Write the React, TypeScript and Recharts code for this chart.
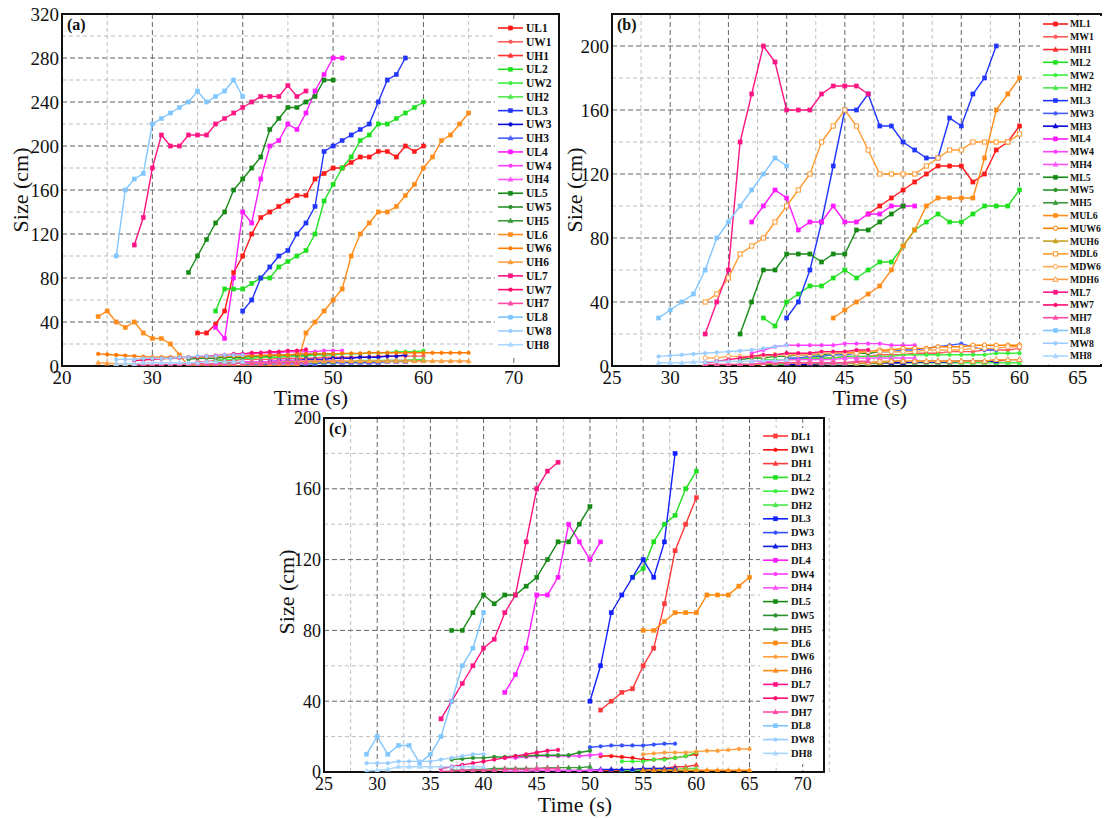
import React from "react";
import {
  LineChart,
  Line,
  XAxis,
  YAxis,
  CartesianGrid,
  Legend,
  ReferenceArea,
} from "recharts";

type Shape = "square" | "circle" | "triangle";
type Series = {
  name: string;
  t0: number;
  values: number[];
  color: string;
  shape: Shape;
  hollow?: boolean;
};

// ---------- panel (a): upper ----------
const UL1 = [30, 30, 38, 50, 85, 100, 120, 135, 140, 145, 150, 155, 155, 170, 175, 180, 180, 185, 190, 190, 195, 195, 190, 200, 195, 200];
const UW1 = [4, 4, 5, 5, 5, 6, 6, 6, 6, 7, 7, 7, 7, 7, 8, 8, 8, 8, 8, 8, 9, 9, 9, 9, 9, 9];
const UH1 = [2, 2, 2, 2, 3, 3, 3, 3, 3, 3, 3, 3, 4, 4, 4, 4, 4, 4, 4, 4, 4, 5, 5, 5, 5, 5];
const UL2 = [50, 70, 70, 70, 75, 80, 80, 90, 95, 100, 105, 120, 150, 165, 180, 190, 205, 210, 220, 220, 225, 230, 235, 240];
const UW2 = [5, 6, 6, 7, 7, 8, 8, 8, 9, 9, 9, 10, 10, 10, 11, 11, 11, 12, 12, 12, 13, 13, 13, 14];
const UH2 = [2, 2, 2, 3, 3, 3, 3, 3, 3, 4, 4, 4, 4, 4, 4, 4, 5, 5, 5, 5, 5, 5, 6, 6];
const UL3 = [50, 60, 80, 90, 100, 105, 120, 130, 145, 195, 200, 205, 210, 215, 220, 240, 260, 265, 280];
const UW3 = [3, 3, 4, 4, 5, 5, 5, 6, 6, 6, 7, 7, 7, 8, 8, 8, 9, 9, 10];
const UH3 = [1, 1, 1, 2, 2, 2, 2, 2, 2, 3, 3, 3, 3, 3, 3, 3, 4, 4, 4];
const UL4 = [35, 25, 80, 140, 130, 170, 200, 205, 220, 215, 230, 250, 265, 280, 280];
const UW4 = [9, 10, 10, 11, 11, 12, 12, 12, 13, 13, 13, 13, 14, 14, 14];
const UH4 = [3, 3, 4, 4, 4, 4, 4, 5, 5, 5, 5, 5, 5, 5, 5];
const UL5 = [85, 100, 115, 130, 140, 160, 170, 180, 190, 215, 225, 235, 235, 240, 245, 260, 260];
const UW5 = [6, 7, 7, 7, 8, 8, 8, 9, 9, 9, 10, 10, 10, 10, 11, 11, 11];
const UH5 = [2, 2, 2, 2, 3, 3, 3, 3, 3, 3, 3, 4, 4, 4, 4, 4, 4];
const UL6 = [45, 50, 40, 35, 40, 30, 25, 25, 20, 10, 0, 0, 0, 0, 0, 0, 0, 0, 0, 0, 0, 0, 0, 30, 40, 50, 60, 70, 100, 120, 130, 140, 140, 145, 155, 165, 180, 190, 205, 210, 220, 230];
const UW6 = [11, 10.5, 10, 9.5, 9, 8.5, 8, 8, 8, 8, 8, 8, 8.5, 8.5, 9, 9, 9, 9.5, 9.5, 10, 10, 10, 11, 11, 11, 11, 11, 11.5, 11.5, 11.5, 12, 12, 12, 12, 12, 12, 12, 12, 12, 12, 12, 12];
const UH6 = [3, 2.5, 2, 2, 2, 1.5, 1.5, 1.5, 1.5, 1.5, 1.5, 2, 2, 2, 2, 2.5, 2.5, 3, 3, 3, 3.5, 3.5, 4, 4.5, 4.5, 4.5, 4.5, 4.5, 4.5, 4.5, 4.5, 4.5, 4.5, 4.5, 4.5, 4.5, 4.5, 4.5, 4.5, 4.5, 4.5, 4.5];
const UL7 = [110, 135, 180, 210, 200, 200, 210, 210, 210, 220, 225, 230, 235, 240, 245, 245, 245, 255, 245, 250];
const UW7 = [5, 5.5, 6, 6.5, 7, 7.5, 8, 8.5, 9, 9.5, 10, 11, 11, 12, 12, 13, 13, 14, 14, 15];
const UH7 = [1, 1, 1, 1.5, 1.5, 1.5, 2, 2, 2, 2, 2, 2.5, 2.5, 2.5, 2.5, 3, 3, 3, 3, 3];
const UL8 = [100, 160, 170, 175, 220, 225, 230, 235, 240, 250, 240, 245, 250, 260, 245];
const UW8 = [6, 6, 6, 7, 7, 7, 7, 8, 8, 9, 9, 9, 10, 10, 10];
const UH8 = [2, 2, 2, 3, 3, 3, 3, 3, 3, 3, 4, 4, 4, 4, 4];

// ---------- panel (b): middle ----------
const ML1 = [95, 100, 105, 110, 115, 120, 125, 125, 125, 115, 120, 135, 140, 150];
const MW1 = [4, 4, 5, 5, 5, 6, 6, 6, 7, 7, 7, 8, 8, 8, 9, 9, 9, 10, 10, 10, 11];
const MH1 = [1, 1, 1, 1, 2, 2, 2, 2, 2, 2, 2, 3, 3, 3, 3, 3, 3, 3, 3, 4, 4];
const ML2 = [30, 25, 40, 45, 50, 50, 55, 60, 55, 60, 65, 65, 75, 85, 90, 95, 90, 90, 95, 100, 100, 100, 110];
const MW2 = [4, 4, 4, 5, 5, 5, 5, 6, 6, 6, 6, 6, 7, 7, 7, 7, 7, 7, 7, 7, 8, 8, 8];
const MH2 = [1, 1, 1, 1, 1, 1.5, 1.5, 1.5, 1.5, 1.5, 2, 2, 2, 2, 2, 2, 2, 2, 2, 2, 2, 2, 2];
const ML3 = [30, 40, 60, 90, 125, 160, 160, 170, 150, 150, 140, 135, 130, 130, 155, 150, 170, 180, 200];
const MW3 = [5, 5, 6, 6, 7, 7, 8, 8, 9, 9, 10, 10, 11, 12, 13, 14, 12, 10, 10];
const MH3 = [1, 1, 1, 1.5, 1.5, 1.5, 2, 2, 2, 2, 2, 2.5, 2.5, 2.5, 2.5, 3, 3, 3, 3];
const ML4 = [90, 100, 110, 105, 85, 90, 90, 100, 90, 90, 95, 95, 100, 100, 100];
const MW4 = [8, 10, 12, 13, 13, 13, 13, 13, 14, 14, 14, 14, 13, 13, 13];
const MH4 = [3, 3, 3, 4, 4, 4, 4, 4, 5, 5, 5, 5, 5, 5, 5];
const ML5 = [20, 40, 60, 60, 70, 70, 70, 65, 70, 70, 85, 85, 90, 95, 100];
const MW5 = [4, 5, 5, 6, 6, 7, 7, 7, 8, 8, 8, 8, 9, 9, 9];
const MH5 = [1, 1, 1, 1, 2, 2, 2, 2, 2, 2, 2, 2, 2, 3, 3];
const MUL6 = [30, 35, 40, 45, 50, 60, 75, 85, 100, 105, 105, 105, 105, 130, 160, 170, 180];
const MUW6 = [8, 8, 9, 9, 10, 10, 11, 11, 11, 12, 12, 12, 13, 13, 13, 13, 13];
const MUH6 = [2, 2, 2, 2, 2, 3, 3, 3, 3, 3, 3, 3, 3, 3, 4, 4, 4];
const MDL6 = [40, 45, 55, 70, 75, 80, 90, 100, 110, 120, 140, 150, 160, 150, 135, 120, 120, 120, 120, 125, 130, 135, 135, 140, 140, 140, 140, 145];
const MDW6 = [5, 5, 6, 6, 6, 6, 7, 7, 7, 7, 8, 8, 8, 8, 9, 9, 9, 9, 9, 10, 10, 10, 10, 11, 11, 11, 12, 12];
const MDH6 = [1, 1, 1, 1, 1, 1, 2, 2, 2, 2, 2, 2, 2, 2, 2, 3, 3, 3, 3, 3, 3, 3, 3, 3, 3, 4, 4, 4];
const ML7 = [20, 40, 60, 140, 170, 200, 190, 160, 160, 160, 170, 175, 175, 175, 170];
const MW7 = [2, 3, 4, 5, 6, 7, 7, 8, 8, 8, 9, 9, 9, 10, 10];
const MH7 = [1, 1, 1, 1, 1, 2, 2, 2, 2, 2, 2, 2, 2, 3, 3];
const ML8 = [30, 35, 40, 45, 60, 80, 90, 100, 110, 120, 130, 125];
const MW8 = [6, 6.5, 7, 7.5, 8, 8.5, 9, 9.5, 10, 11, 12, 13];
const MH8 = [2, 2, 2, 2.5, 2.5, 3, 3, 3, 3, 3.5, 3.5, 4];

// ---------- panel (c): lower ----------
const DL1 = [35, 40, 45, 47, 60, 70, 95, 125, 140, 155];
const DW1 = [9, 9, 8.5, 8, 7, 7, 7.5, 8, 9, 10];
const DH1 = [1, 1, 1, 1.5, 1.5, 2, 2, 3, 3, 4];
const DL2 = [110, 115, 130, 140, 145, 160, 170];
const DW2 = [6, 6, 6, 7, 7, 8, 9, 11];
const DH2 = [1, 1, 1, 1, 1.5, 1.5, 2, 2];
const DL3 = [40, 60, 90, 100, 110, 120, 110, 130, 180];
const DW3 = [14, 14.5, 15, 15, 15, 15, 15.5, 16, 16];
const DH3 = [1, 1.5, 1.5, 1.5, 1.5, 2, 2, 2, 2];
const DL4 = [45, 55, 70, 100, 100, 110, 140, 130, 120, 130];
const DW4 = [8, 8, 8.5, 9, 9, 9, 9, 9, 9.5, 10];
const DH4 = [0.5, 0.5, 0.5, 1, 1, 1, 1, 1, 1, 1];
const DL5 = [80, 80, 90, 100, 95, 100, 100, 105, 110, 120, 130, 130, 140, 150];
const DW5 = [7, 7.5, 8, 8, 8.5, 8.5, 9, 9, 9.5, 9.5, 9.5, 9.5, 11, 12];
const DH5 = [1, 1, 1.5, 1.5, 2, 2, 2, 2, 2, 2.5, 2.5, 2.5, 2.5, 3];
const DL6 = [80, 80, 85, 90, 90, 90, 100, 100, 100, 105, 110];
const DW6 = [10, 10.5, 11, 11, 11, 11.5, 12, 12, 12.5, 13, 13];
const DH6 = [1, 1, 1, 1, 1, 1, 1, 1, 1, 1, 1];
const DL7 = [30, 40, 50, 60, 70, 75, 90, 100, 130, 160, 170, 175];
const DW7 = [2, 3, 4, 5, 6, 7, 8, 9, 10, 11, 12, 12.5];
const DH7 = [0.5, 0.5, 1, 1, 1, 1, 1.5, 1.5, 1.5, 2, 2, 2];
const DL8 = [10, 20, 10, 15, 15, 5, 10, 20, 40, 60, 70, 90];
const DW8 = [5, 5, 5, 6, 6, 6, 6, 7, 8, 9, 10, 10];
const DH8 = [0.5, 1, 1.5, 3, 3, 3, 3, 3, 3, 3, 3, 3];

// ---------- colours ----------
const RED = ["#ff1a1a", "#ff5a5a", "#ff3030"];
const GREEN = ["#1fe01f", "#3cf03c", "#4ee84e"];
const BLUE = ["#2035ff", "#0a0ad8", "#4560ff"];
const MAGENTA = ["#ff1aff", "#ff40ff", "#ff55ff"];
const DKGREEN = ["#158a15", "#2a922a", "#3a9a3a"];
const ORANGE = ["#ff8c1a", "#ff7a00", "#ffa040"];
const PINK = ["#ff1483", "#ff0a70", "#ff4aa6"];
const SKY = ["#80c6ff", "#99ccff", "#aad6ff"];

const SHAPES: Shape[] = ["square", "circle", "triangle"];

function mk(name: string, t0: number, values: number[], color: string, shape: Shape, hollow = false): Series {
  return { name, t0, values, color, shape, hollow };
}

function trio(prefix: string, idx: string, t0: number, vals: number[][], cols: string[]): Series[] {
  return ["L", "W", "H"].map((k, i) => mk(`${prefix}${k}${idx}`, t0, vals[i], cols[i], SHAPES[i]));
}

const seriesA: Series[] = [
  ...trio("U", "1", 35, [UL1, UW1, UH1], RED),
  ...trio("U", "2", 37, [UL2, UW2, UH2], GREEN),
  ...trio("U", "3", 40, [UL3, UW3, UH3], BLUE),
  ...trio("U", "4", 37, [UL4, UW4, UH4], MAGENTA),
  ...trio("U", "5", 34, [UL5, UW5, UH5], DKGREEN),
  ...trio("U", "6", 24, [UL6, UW6, UH6], ORANGE),
  ...trio("U", "7", 28, [UL7, UW7, UH7], PINK),
  ...trio("U", "8", 26, [UL8, UW8, UH8], SKY),
];

const seriesB: Series[] = [
  mk("ML1", 47, ML1, RED[0], "square"),
  mk("MW1", 40, MW1, RED[1], "circle"),
  mk("MH1", 40, MH1, RED[2], "triangle"),
  mk("ML2", 38, ML2, GREEN[0], "square"),
  mk("MW2", 38, MW2, GREEN[1], "circle"),
  mk("MH2", 38, MH2, GREEN[2], "triangle"),
  mk("ML3", 40, ML3, BLUE[0], "square"),
  mk("MW3", 40, MW3, BLUE[2], "circle"),
  mk("MH3", 40, MH3, BLUE[1], "triangle"),
  mk("ML4", 37, ML4, MAGENTA[0], "square"),
  mk("MW4", 37, MW4, MAGENTA[1], "circle"),
  mk("MH4", 37, MH4, MAGENTA[2], "triangle"),
  mk("ML5", 36, ML5, DKGREEN[0], "square"),
  mk("MW5", 36, MW5, DKGREEN[1], "circle"),
  mk("MH5", 36, MH5, DKGREEN[2], "triangle"),
  mk("MUL6", 44, MUL6, "#ff8c1a", "square"),
  mk("MUW6", 44, MUW6, "#ff8000", "circle", true),
  mk("MUH6", 44, MUH6, "#c8a020", "triangle"),
  mk("MDL6", 33, MDL6, "#ff9a30", "square", true),
  mk("MDW6", 33, MDW6, "#ffa850", "circle", true),
  mk("MDH6", 33, MDH6, "#ff9a40", "triangle", true),
  mk("ML7", 33, ML7, PINK[0], "square"),
  mk("MW7", 33, MW7, PINK[1], "circle"),
  mk("MH7", 33, MH7, PINK[2], "triangle"),
  mk("ML8", 29, ML8, SKY[0], "square"),
  mk("MW8", 29, MW8, SKY[1], "circle"),
  mk("MH8", 29, MH8, SKY[2], "triangle"),
];

const seriesC: Series[] = [
  mk("DL1", 51, DL1, "#ff3a3a", "square"),
  mk("DW1", 51, DW1, "#ff1010", "circle"),
  mk("DH1", 51, DH1, "#ff3a3a", "triangle"),
  mk("DL2", 54, DL2, GREEN[0], "square"),
  mk("DW2", 53, DW2, GREEN[1], "circle"),
  mk("DH2", 53, DH2, GREEN[2], "triangle"),
  mk("DL3", 50, DL3, "#1020ff", "square"),
  mk("DW3", 50, DW3, "#3550ff", "circle"),
  mk("DH3", 50, DH3, "#1020e0", "triangle"),
  ...trio("D", "4", 42, [DL4, DW4, DH4], MAGENTA),
  ...trio("D", "5", 37, [DL5, DW5, DH5], DKGREEN),
  mk("DL6", 55, DL6, "#ff8a10", "square"),
  mk("DW6", 55, DW6, "#ffa040", "circle"),
  mk("DH6", 55, DH6, "#ff8a10", "triangle"),
  ...trio("D", "7", 36, [DL7, DW7, DH7], PINK),
  ...trio("D", "8", 29, [DL8, DW8, DH8], SKY),
];

// ---------- drawing helpers ----------
const SERIF = "'Liberation Serif', 'Times New Roman', serif";

function Mark({ cx, cy, shape, color, hollow }: { cx: number; cy: number; shape: Shape; color: string; hollow?: boolean }) {
  if (cx == null || cy == null || isNaN(cx) || isNaN(cy)) return null;
  const fill = hollow ? "#ffffff" : color;
  const sw = hollow ? 1 : 0.4;
  if (shape === "square") {
    return <rect x={cx - 2.1} y={cy - 2.1} width={4.2} height={4.2} fill={fill} stroke={color} strokeWidth={sw} />;
  }
  if (shape === "circle") {
    return <circle cx={cx} cy={cy} r={hollow ? 2.2 : 1.9} fill={fill} stroke={color} strokeWidth={sw} />;
  }
  return (
    <polygon
      points={`${cx},${cy - 2.8} ${cx + 2.6},${cy + 1.9} ${cx - 2.6},${cy + 1.9}`}
      fill={fill}
      stroke={color}
      strokeWidth={sw}
    />
  );
}

type LegendCfg = { left: number; top: number; width: number; height: number; y0: number; step: number; font: number; textX: number };

function LegendBox({ series, cfg }: { series: Series[]; cfg: LegendCfg }) {
  return (
    <svg width={cfg.width} height={cfg.height} style={{ display: "block", background: "#fff" }}>
      {series.map((s, i) => {
        const y = cfg.y0 + i * cfg.step;
        return (
          <g key={s.name}>
            <line x1={3} x2={28} y1={y} y2={y} stroke={s.color} strokeWidth={1.6} />
            <Mark cx={15.5} cy={y} shape={s.shape} color={s.color} hollow={s.hollow} />
            <text
              x={cfg.textX}
              y={y}
              dy="0.35em"
              fontFamily={SERIF}
              fontWeight="bold"
              fontSize={cfg.font}
              fill="#111"
            >
              {s.name}
            </text>
          </g>
        );
      })}
    </svg>
  );
}

type PanelProps = {
  left: number;
  top: number;
  width: number;
  height: number;
  margin: { top: number; right: number; left: number; bottom: number };
  yWidth: number;
  xHeight: number;
  xDomain: [number, number];
  xTicks: number[];
  xMinor: number[];
  yDomain: [number, number];
  yTicks: number[];
  yMinor: number[];
  tickFont: number;
  tag: string;
  series: Series[];
  legend: LegendCfg;
  yLabel: { x: number; y: number };
  xLabel: { x: number; y: number };
};

function Panel(p: PanelProps) {
  return (
    <div style={{ position: "absolute", left: p.left, top: p.top, width: p.width, height: p.height }}>
      <LineChart width={p.width} height={p.height} margin={p.margin}>
        <CartesianGrid
          horizontalValues={p.yMinor}
          verticalValues={p.xMinor}
          stroke="#b8b8b8"
          strokeDasharray="4 3"
          strokeWidth={0.9}
        />
        <CartesianGrid
          horizontalValues={p.yTicks}
          verticalValues={p.xTicks}
          stroke="#666"
          strokeDasharray="5 3"
          strokeWidth={1}
        />
        <XAxis
          dataKey="t"
          type="number"
          domain={p.xDomain}
          ticks={p.xTicks}
          allowDataOverflow
          height={p.xHeight}
          axisLine={false}
          tickLine={false}
          tickSize={0}
          tickMargin={5}
          tick={{ fontFamily: SERIF, fontSize: p.tickFont, fill: "#111" }}
          label={() => (
            <text x={p.xLabel.x} y={p.xLabel.y} textAnchor="middle" fontFamily={SERIF} fontSize={22} fill="#111">
              Time (s)
            </text>
          )}
        />
        <YAxis
          type="number"
          domain={p.yDomain}
          ticks={p.yTicks}
          allowDataOverflow
          width={p.yWidth}
          axisLine={false}
          tickLine={false}
          tickSize={0}
          tickMargin={3}
          tick={{ fontFamily: SERIF, fontSize: p.tickFont, fill: "#111" }}
          label={() => (
            <text
              x={p.yLabel.x}
              y={p.yLabel.y}
              transform={`rotate(-90 ${p.yLabel.x} ${p.yLabel.y})`}
              textAnchor="middle"
              fontFamily={SERIF}
              fontSize={22}
              fill="#111"
            >
              Size (cm)
            </text>
          )}
        />
        {p.series.map((s) => (
          <Line
            key={s.name}
            name={s.name}
            data={s.values.map((v, i) => ({ t: s.t0 + i, v }))}
            dataKey="v"
            type="linear"
            stroke={s.color}
            strokeWidth={1.4}
            isAnimationActive={false}
            activeDot={false}
            dot={(d: any) => (
              <Mark key={`${s.name}-${d.index}`} cx={d.cx} cy={d.cy} shape={s.shape} color={s.color} hollow={s.hollow} />
            )}
          />
        ))}
        <ReferenceArea
          x1={p.xDomain[0]}
          x2={p.xDomain[1]}
          y1={p.yDomain[0]}
          y2={p.yDomain[1]}
          fill="none"
          fillOpacity={0}
          stroke="#111"
          strokeWidth={2}
          label={{
            value: p.tag,
            position: "insideTopLeft",
            offset: 5,
            style: { fontFamily: SERIF, fontWeight: "bold", fontSize: 16, fill: "#111" },
          }}
        />
        <Legend
          layout="vertical"
          align="center"
          verticalAlign="middle"
          wrapperStyle={{ left: p.legend.left, top: p.legend.top, width: p.legend.width, height: p.legend.height }}
          content={() => <LegendBox series={p.series} cfg={p.legend} />}
        />
      </LineChart>
    </div>
  );
}

const range = (a: number, b: number, s: number) => {
  const out: number[] = [];
  for (let v = a; v <= b + 1e-9; v += s) out.push(v);
  return out;
};

export default function App() {
  return (
    <div style={{ position: "absolute", left: 0, top: 0, width: 1105, height: 818, background: "#fff" }}>
      <Panel
        left={0}
        top={0}
        width={565}
        height={414}
        margin={{ top: 14, right: 6, left: 0, bottom: 14 }}
        yWidth={62}
        xHeight={34}
        xDomain={[20, 75]}
        xTicks={range(20, 70, 10)}
        xMinor={range(25, 75, 10)}
        yDomain={[0, 320]}
        yTicks={range(0, 320, 40)}
        yMinor={range(20, 300, 40)}
        tickFont={19}
        tag="(a)"
        series={seriesA}
        legend={{ left: 495, top: 20, width: 62, height: 336, y0: 8, step: 13.77, font: 11.5, textX: 31 }}
        yLabel={{ x: 28, y: 190 }}
        xLabel={{ x: 311, y: 405 }}
      />
      <Panel
        left={560}
        top={0}
        width={545}
        height={414}
        margin={{ top: 14, right: 4, left: 0, bottom: 14 }}
        yWidth={52}
        xHeight={34}
        xDomain={[25, 67]}
        xTicks={range(25, 65, 5)}
        xMinor={range(27.5, 67.5, 5)}
        yDomain={[0, 220]}
        yTicks={range(0, 200, 40)}
        yMinor={range(20, 220, 40)}
        tickFont={19}
        tag="(b)"
        series={seriesB}
        legend={{ left: 480, top: 16, width: 65, height: 348, y0: 8, step: 12.77, font: 9.8, textX: 30 }}
        yLabel={{ x: 22, y: 190 }}
        xLabel={{ x: 310, y: 405 }}
      />
      <Panel
        left={260}
        top={400}
        width={570}
        height={418}
        margin={{ top: 18, right: 6, left: 0, bottom: 0 }}
        yWidth={64}
        xHeight={46}
        xDomain={[25, 72]}
        xTicks={range(25, 70, 5)}
        xMinor={range(27.5, 72.5, 5)}
        yDomain={[0, 200]}
        yTicks={range(0, 200, 40)}
        yMinor={range(20, 200, 40)}
        tickFont={18}
        tag="(c)"
        series={seriesC}
        legend={{ left: 500, top: 28, width: 62, height: 336, y0: 8, step: 13.8, font: 10.5, textX: 31 }}
        yLabel={{ x: 34, y: 192 }}
        xLabel={{ x: 315, y: 412 }}
      />
    </div>
  );
}
